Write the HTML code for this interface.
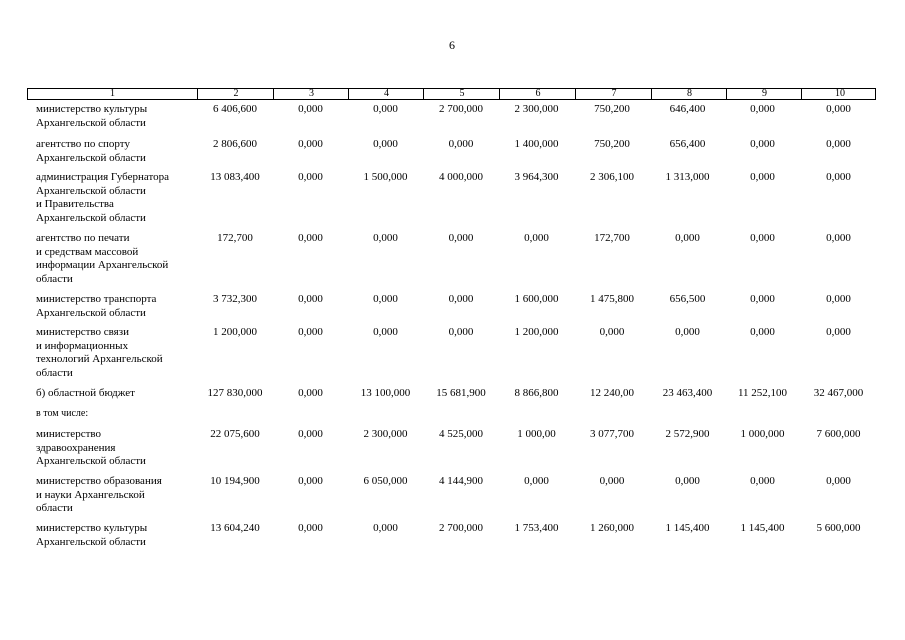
<!DOCTYPE html>
<html><head><meta charset="utf-8"><style>
body{margin:0;background:#fff;width:905px;height:640px;position:relative;overflow:hidden;font-family:"Liberation Serif","Noto Serif CJK SC",serif;color:#000;font-size:11px}
.pn{position:absolute;left:449px;top:38px;font-size:12px}
.hdr{position:absolute;left:27px;top:88px;width:849px;height:12px;border:1px solid #000;box-sizing:border-box}
.hdr div{position:absolute;top:0;height:10px;line-height:10px;text-align:center;font-size:10px;border-left:1px solid #000}
.row{position:absolute;left:0;width:905px;line-height:13.5px}
.row span{position:absolute;top:0;text-align:center}
.row .l{left:36px;text-align:left;width:160px}
</style></head><body>
<div class="pn">6</div>
<div class="hdr">
<div style="left:0;width:169px;border-left:none">1</div>
<div style="left:169px;width:76px">2</div>
<div style="left:245px;width:75px">3</div>
<div style="left:320px;width:75px">4</div>
<div style="left:395px;width:76px">5</div>
<div style="left:471px;width:76px">6</div>
<div style="left:547px;width:76px">7</div>
<div style="left:623px;width:75px">8</div>
<div style="left:698px;width:75px">9</div>
<div style="left:773px;width:76px">10</div>
</div>
<div id="rows"></div>
<script>
var cols=[[197,273],[273,348],[348,423],[423,499],[499,574],[574,650],[650,725],[725,800],[800,877]];
var rows=[
[103,"министерство культуры<br>Архангельской области",["6 406,600","0,000","0,000","2 700,000","2 300,000","750,200","646,400","0,000","0,000"]],
[138,"агентство по спорту<br>Архангельской области",["2 806,600","0,000","0,000","0,000","1 400,000","750,200","656,400","0,000","0,000"]],
[171,"администрация Губернатора<br>Архангельской области<br>и Правительства<br>Архангельской области",["13 083,400","0,000","1 500,000","4 000,000","3 964,300","2 306,100","1 313,000","0,000","0,000"]],
[232,"агентство по печати<br>и средствам массовой<br>информации Архангельской<br>области",["172,700","0,000","0,000","0,000","0,000","172,700","0,000","0,000","0,000"]],
[293,"министерство транспорта<br>Архангельской области",["3 732,300","0,000","0,000","0,000","1 600,000","1 475,800","656,500","0,000","0,000"]],
[326,"министерство связи<br>и информационных<br>технологий Архангельской<br>области",["1 200,000","0,000","0,000","0,000","1 200,000","0,000","0,000","0,000","0,000"]],
[387,"б) областной бюджет",["127 830,000","0,000","13 100,000","15 681,900","8 866,800","12 240,00","23 463,400","11 252,100","32 467,000"]],
[407,"<span style='font-size:10px'>в том числе:</span>",[]],
[428,"министерство<br>здравоохранения<br>Архангельской области",["22 075,600","0,000","2 300,000","4 525,000","1 000,00","3 077,700","2 572,900","1 000,000","7 600,000"]],
[475,"министерство образования<br>и науки Архангельской<br>области",["10 194,900","0,000","6 050,000","4 144,900","0,000","0,000","0,000","0,000","0,000"]],
[522,"министерство культуры<br>Архангельской области",["13 604,240","0,000","0,000","2 700,000","1 753,400","1 260,000","1 145,400","1 145,400","5 600,000"]]
];
var h="";
rows.forEach(function(r){
 h+='<div class="row" style="top:'+r[0]+'px"><span class="l">'+r[1]+'</span>';
 r[2].forEach(function(v,i){h+='<span style="left:'+cols[i][0]+'px;width:'+(cols[i][1]-cols[i][0])+'px">'+v+'</span>';});
 h+='</div>';
});
document.getElementById("rows").innerHTML=h;
</script>
</body></html>
